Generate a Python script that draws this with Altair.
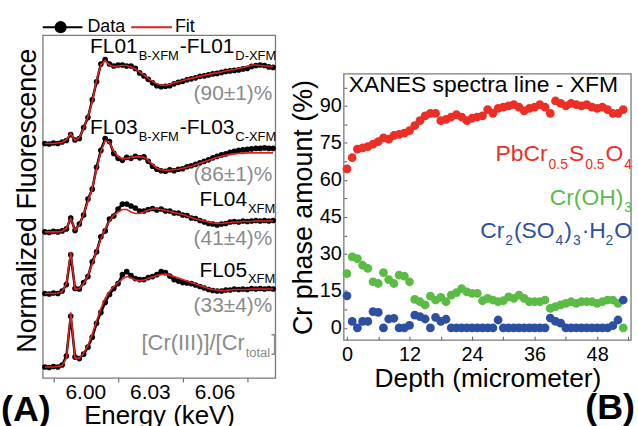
import altair as alt
import pandas as pd

FONT = "Liberation Sans"

# ---------------- Panel A: XANES spectra (offset, arbitrary units) ----------------
energy_kev = [5.981, 5.983, 5.985, 5.987, 5.989, 5.991, 5.993, 5.995, 5.997, 5.999,
              6.001, 6.003, 6.005, 6.007, 6.009, 6.011, 6.013, 6.015, 6.017, 6.019,
              6.021, 6.023, 6.025, 6.027, 6.029, 6.031, 6.033, 6.035, 6.037, 6.039,
              6.041, 6.043, 6.045, 6.047, 6.049, 6.051, 6.053, 6.055, 6.057, 6.059,
              6.061, 6.063, 6.065, 6.067, 6.069, 6.071, 6.073, 6.075, 6.077, 6.079,
              6.081, 6.083, 6.085, 6.087]

fl01_data = [236, 235.5, 236.5, 236, 237.5, 239, 245, 239.5, 241, 252, 262, 280, 298, 316, 320.5,
             316, 314, 315, 315, 314, 314, 311.5, 307, 304, 300.5, 297, 294, 293, 293.5, 294,
             296, 297.5, 298.5, 300, 301, 302, 303.5, 304, 305, 306, 306.5, 307.5, 308.5, 309,
             309.5, 310, 311, 311.5, 313.5, 314.5, 315, 314.5, 313, 312.5]
fl01_fit = [236, 236, 236, 236.5, 237, 240, 246, 239, 242, 251, 263, 278, 300, 315, 319.5,
            315, 313.5, 314, 314.5, 314.5, 313, 311, 308, 305, 301.5, 298.5, 296, 294.5, 294.5, 295.5,
            297, 298, 299, 300.5, 301.5, 302.5, 303.5, 304.5, 305.5, 306.5, 307, 308, 309, 310,
            310.5, 311.5, 312.5, 313.5, 315, 315, 314.5, 314, 314, 313.5]

fl03_data = [147, 146.5, 147.5, 147, 148, 150, 161, 148.5, 155, 164, 180, 190, 212, 229, 241,
             238, 226, 221, 219, 222, 221, 223, 221.5, 222.5, 218, 213, 210, 208.5, 208, 209.5,
             208.5, 210, 210.5, 212.5, 213.5, 215, 216.5, 218, 219.5, 221.5, 223, 224.5, 225.5, 227,
             228, 229, 229.5, 230, 230.5, 231, 231, 231.5, 231, 231]
fl03_fit = [147, 147, 147, 147, 147.5, 151, 160.5, 149, 154, 165, 178, 191, 210, 228, 239,
            237, 228, 223, 220.5, 221, 222, 222.5, 222.5, 222, 219, 215, 211, 209.5, 209, 209,
            209.5, 210, 211, 212, 213, 214.5, 216, 217.5, 219, 220.5, 222, 223, 224, 225,
            225.5, 226, 226, 226.5, 226.5, 226.5, 226.5, 226.5, 226.5, 226.5]

fl04_data = [85, 84.5, 85.5, 85, 87.5, 94, 124, 90, 89.5, 96, 102, 117, 127, 142, 148,
             160, 163, 170, 175, 175, 173, 171, 168, 168, 169.5, 170.5, 169, 170, 168, 168,
             166, 166, 164, 163.5, 161, 160.5, 158.5, 157, 155.5, 155, 154, 155, 155.5, 157,
             157.5, 157, 158, 157.5, 158, 158.5, 158, 158.5, 158, 158.5]
fl04_fit = [85, 85, 85, 85.5, 87, 95, 127, 89, 90, 95, 103, 115, 128, 140, 150,
            158, 164, 167, 169.5, 169.5, 167, 165.5, 165.5, 167, 169, 170, 170, 169.5, 168.5, 167.5,
            166.5, 165.5, 164.5, 163, 161.5, 160, 159, 158, 157, 156, 155.5, 155.5, 156, 156.5,
            157, 157, 157.5, 157.5, 157.5, 158, 158, 158, 158, 158]

fl05_data = [11, 10.5, 11.5, 11, 13, 22, 62, 21, 19.5, 24, 31, 41, 55, 66, 76,
             84, 90, 95, 104, 107, 103, 100, 99, 99, 101, 102, 104, 107, 106, 102.5,
             99, 97.5, 96, 95.5, 95, 93.5, 92, 90.5, 89, 88, 87.5, 87.5, 88.5, 88.5,
             89.5, 89, 89.5, 89, 90, 89.5, 90, 89.5, 90, 89.5]
fl05_fit = [11, 11, 11, 11.5, 12.5, 20, 66, 20, 20, 25, 33, 44, 57.5, 70, 80,
            87, 92, 96, 99.5, 102, 100.5, 98.5, 98, 98.5, 100, 101.5, 103, 104, 104.5, 103.5,
            102, 100.5, 99, 97.5, 96, 94.5, 93, 91.5, 90, 89, 88.5, 88, 88, 88.5,
            89, 89, 89, 89, 89.5, 89.5, 89.5, 89.5, 89.5, 89.5]

spectra = {"FL01": (fl01_data, fl01_fit), "FL03": (fl03_data, fl03_fit),
           "FL04": (fl04_data, fl04_fit), "FL05": (fl05_data, fl05_fit)}

energy_ticks = [5.985, 6.0, 6.015, 6.03, 6.045, 6.06, 6.075]
energy_label_values = [6.00, 6.03, 6.06]
energy_label_text = ["6.00", "6.03", "6.06"]

# ---------------- Panel B: phase amounts along depth ----------------
depth_um = [0, 1, 2, 3, 4, 5, 6, 7, 8, 9, 10, 11, 12, 13, 14, 15, 16, 17, 18, 19, 20, 21, 22, 23, 24, 25, 26,
            27, 28, 29, 30, 31, 32, 33, 34, 35, 36, 37, 38, 39, 40, 41, 42, 43, 44, 45, 46, 47, 48, 49, 50,
            51, 52, 53]
pbcrso = [64.5, 69, 72.5, 73, 73.5, 74.5, 75.5, 77, 76.5, 78, 78.5, 79, 80, 82, 84, 86, 87, 87, 84, 84.5,
          85.5, 86.5, 85.5, 84, 85, 85.5, 86, 88.5, 87, 89, 89.5, 90, 90.5, 89.5, 88, 89, 89.5, 90.5, 89.5,
          87, 92, 91, 90, 91, 90.5, 90, 90.5, 89.5, 89, 89.5, 88.5, 87, 87, 88.5]
croh3 = [22, 28.8, 28.1, 25.4, 24.1, 18.7, 18, 22.4, 19.6, 18, 21.4, 21, 18.7, 11.6, 10.6, 9.3, 12.9, 11.3,
         12.4, 10.6, 13.3, 14.3, 15.9, 14.6, 14, 14, 11, 12, 11.3, 10.6, 11, 12.6, 12, 13.3, 12, 10.6, 10.6,
         10.6, 11.3, 7.9, 8.6, 9.3, 9.9, 10.6, 9.9, 10.6, 10.6, 10.6, 9.9, 10.6, 11.3, 11.3, 9.9, 0]
cr2so4 = [13, 2.6, 0, 2.6, 2.6, 6.6, 6.3, 0, 3.6, 3.9, 0, 0, 1, 5.2, 4.6, 3.6, 0, 4.3, 2.6, 3.5, 0,
          0, 0, 0, 0, 0, 0, 0, 0, 3.2, 0, 0, 0, 0, 0, 0, 0, 0, 0, 4, 2.6, 1.9,
          0, 0, 0, 0, 0, 0, 0, 0, 0, 0.9, 3.2, 11.3]
phase_names = ["PbCr0.5S0.5O4", "Cr(OH)3", "Cr2(SO4)3.H2O"]
phase_colors = ["#ec2f26", "#5bbb45", "#2d4fa2"]

RED_FIT = "#e3201f"
GRAY = "#8a8a8a"
FRAME = "#7a7a7a"

# ---------------- text helpers (Arial / Liberation Sans advance widths) ----------------
EM = {" ": .278, "(": .333, ")": .333, "%": .889, "-": .333, ".": .278, "/": .278, "[": .278, "]": .278,
      "±": .584, "·": .278,
      "A": .667, "B": .667, "C": .722, "D": .722, "E": .667, "F": .611, "H": .722, "I": .278, "L": .556,
      "M": .833, "N": .722, "O": .778, "P": .667, "S": .667, "X": .667,
      "a": .556, "b": .556, "c": .5, "e": .556, "i": .222, "l": .222, "n": .556, "o": .556, "p": .556,
      "r": .333, "s": .5, "t": .278}


def tw(s, size):
    return sum(EM.get(c, 0.556) for c in s) * size


ONE = pd.DataFrame({"k": [0]})


def txt(t, x, y, size, color="black", align="left", weight="normal"):
    return alt.Chart(ONE).mark_text(text=t, font=FONT, fontSize=size, color=color, align=align,
                                    baseline="alphabetic", fontWeight=weight).encode(
        x=alt.value(x), y=alt.value(y))


def rich(segs, x, y, color="black", anchor="left", gap=1.0):
    widths = [tw(t, s) for t, s, _ in segs]
    total = sum(widths) + gap * (len(segs) - 1)
    cur = x if anchor == "left" else x - total
    out = []
    for (t, s, dy), w in zip(segs, widths):
        out.append(txt(t, cur, y + dy, s, color))
        cur += w + gap
    return out


# ---------------- Panel A chart ----------------
rows = []
for name, (d, f) in spectra.items():
    for e, dv, fv in zip(energy_kev, d, f):
        rows.append({"spectrum": name, "energy": e, "data": dv, "fit": fv})
dfA = pd.DataFrame(rows)

WA, HA = 234, 345
xscaleA = alt.Scale(domain=[5.98, 6.088], nice=False, zero=False)
yscaleA = alt.Scale(domain=[0, 345], nice=False, zero=False)
xaxisA = alt.Axis(values=energy_ticks, labels=False,
                  tickSize=4, title="Energy (keV)", titleFontSize=26, titleX=WA / 2, titleY=46,
                  titleBaseline="alphabetic", titleAlign="center")
yaxisA = alt.Axis(ticks=False, labels=False, title="Normalized Fluorescence", titleFontSize=27,
                  titleX=-7, titleY=166, titleBaseline="alphabetic", titleAlign="center", titleAngle=-90)

dataline = alt.Chart(dfA).mark_line(color="black", strokeWidth=2.5).encode(
    x=alt.X("energy:Q", scale=xscaleA, axis=xaxisA),
    y=alt.Y("data:Q", scale=yscaleA, axis=yaxisA),
    detail="spectrum:N")
dots = alt.Chart(dfA).mark_circle(size=32, color="black", opacity=1).encode(
    x=alt.X("energy:Q", title="Energy (keV)"),
    y=alt.Y("data:Q", title="Normalized Fluorescence"),
    detail="spectrum:N")
fitline = alt.Chart(dfA).mark_line(color=RED_FIT, strokeWidth=1.6).encode(
    x=alt.X("energy:Q", title="Energy (keV)"),
    y=alt.Y("fit:Q", title="Normalized Fluorescence"),
    detail="spectrum:N")

# tick labels of the energy axis
tickdf = pd.DataFrame({"energy": energy_label_values, "label": energy_label_text})
ticklabels = alt.Chart(tickdf).mark_text(font=FONT, fontSize=21, color="black", align="center",
                                         baseline="alphabetic").encode(
    x=alt.X("energy:Q", title="Energy (keV)"), y=alt.value(HA + 21), text="label:N")

layersA = [dataline, dots, fitline, ticklabels]
# legend
layersA.append(alt.Chart(ONE).mark_rule(color="black", strokeWidth=2).encode(
    x=alt.value(0), x2=alt.value(40), y=alt.value(-8)))
layersA.append(alt.Chart(ONE).mark_circle(color="black", size=150, opacity=1).encode(
    x=alt.value(18), y=alt.value(-8)))
layersA.append(txt("Data", 45, -3, 18))
layersA.append(alt.Chart(ONE).mark_rule(color=RED_FIT, strokeWidth=2).encode(
    x=alt.value(89), x2=alt.value(130), y=alt.value(-8)))
layersA.append(txt("Fit", 133, -3, 18))
# sample labels
layersA += rich([("FL01", 21, 0), ("B-XFM", 13, 7), ("-FL01", 21, 0), ("D-XFM", 13, 7)], 235, 18, anchor="right")
layersA += rich([("FL03", 21, 0), ("B-XFM", 13, 8), ("-FL03", 21, 0), ("C-XFM", 13, 8)], 235, 99, anchor="right")
layersA += rich([("FL04", 21, 0), ("XFM", 13, 7)], 234, 172, anchor="right")
layersA += rich([("FL05", 21, 0), ("XFM", 13, 6)], 234, 243, anchor="right")
layersA.append(txt("(90±1)%", 231, 65.5, 21, GRAY, align="right"))
layersA.append(txt("(86±1)%", 231, 147, 21, GRAY, align="right"))
layersA.append(txt("(41±4)%", 231, 211, 21, GRAY, align="right"))
layersA.append(txt("(33±4)%", 231, 279, 21, GRAY, align="right"))
layersA += rich([("[Cr(III)]/[Cr", 22, 0), ("total", 13, 7), ("]", 22, 0)], 236, 317, color=GRAY, anchor="right")
layersA.append(txt("(A)", -42, 388, 36, weight="bold"))
# invisible extent guide (right edge of panel A block)
layersA.append(alt.Chart(ONE).mark_rule(opacity=0).encode(x=alt.value(WA + 4), y=alt.value(0), y2=alt.value(10)))

panelA = alt.layer(*layersA).properties(width=WA, height=HA)

# ---------------- Panel B chart ----------------
rowsB = []
for name, vals in zip(phase_names, [pbcrso, croh3, cr2so4]):
    for d, v in zip(depth_um, vals):
        rowsB.append({"phase": name, "depth": d, "amount": v})
dfB = pd.DataFrame(rowsB)

WB, HB = 289, 307      # plot group (frame starts TOPB px below group top)
TOPB = 39
xaxisB = alt.Axis(values=[0, 6, 12, 18, 24, 30, 36, 42, 48, 54],
                  labelExpr="datum.value % 12 === 0 ? datum.label : ''",
                  offset=-4, tickSize=4, labelPadding=4, labelFontSize=20, labelFlush=False, labelOverlap=False,
                  title="Depth (micrometer)", titleFontSize=26.5, titleX=WB / 2, titleY=51,
                  titleBaseline="alphabetic", titleAlign="center")
yaxisB = alt.Axis(values=[0, 7.5, 15, 22.5, 30, 37.5, 45, 52.5, 60, 67.5, 75, 82.5, 90, 97.5],
                  labelExpr="datum.value % 15 === 0 ? datum.label : ''",
                  offset=-3, tickSize=3, labelPadding=2.5, labelFontSize=20, labelFlush=False, labelOverlap=False,
                  title="Cr phase amount (%)", titleFontSize=27, titleX=-36, titleY=TOPB + (HB - TOPB) / 2,
                  titleBaseline="alphabetic", titleAlign="center", titleAngle=-90)

pts = alt.Chart(dfB).mark_circle(size=78, opacity=1).encode(
    x=alt.X("depth:Q", scale=alt.Scale(domain=[-0.6, 54.5], nice=False, zero=False), axis=xaxisB),
    y=alt.Y("amount:Q", scale=alt.Scale(domain=[-5, 118.7], nice=False, zero=False), axis=yaxisB),
    color=alt.Color("phase:N", scale=alt.Scale(domain=phase_names, range=phase_colors), legend=None),
    order=alt.Order("order_key:Q"),
).transform_calculate(order_key="datum.phase === 'PbCr0.5S0.5O4' ? 0 : (datum.phase === 'Cr(OH)3' ? 1 : 2)")

frameB = alt.Chart(ONE).mark_rect(filled=False, stroke=FRAME, strokeWidth=1.3).encode(
    x=alt.value(0), x2=alt.value(WB), y=alt.value(TOPB), y2=alt.value(HB))

layersB = [frameB, pts]
layersB.append(txt("XANES spectra line - XFM", 5, TOPB + 18, 23))
layersB += rich([("PbCr", 23, 0), ("0.5", 14, 8), ("S", 23, 0), ("0.5", 14, 8), ("O", 23, 0), ("4", 14, 8)],
                290, TOPB + 88, color=phase_colors[0], anchor="right")
layersB += rich([("Cr(OH)", 23, 0), ("3", 14, 7)], 290, TOPB + 131.5, color=phase_colors[1], anchor="right")
layersB += rich([("Cr", 23, 0), ("2", 14, 7), ("(SO", 23, 0), ("4", 14, 7), (")", 23, 0), ("3", 14, 7),
                 ("·H", 23, 0), ("2", 14, 7), ("O", 23, 0)], 290, TOPB + 164.7, color=phase_colors[2], anchor="right")
layersB.append(txt("(B)", 293, HB + 79, 36, align="right", weight="bold"))
layersB.append(alt.Chart(ONE).mark_rule(opacity=0).encode(x=alt.value(-60), y=alt.value(TOPB + 10), y2=alt.value(TOPB + 20)))

panelB = alt.layer(*layersB).properties(width=WB, height=HB, view=alt.ViewBackground(stroke="transparent"))

chart = alt.hconcat(panelA, panelB, spacing=3).properties(
    padding={"left": 0, "top": 16, "right": 2, "bottom": 0}
).configure_view(stroke=FRAME, strokeWidth=1.3).configure_axis(
    labelFont=FONT, titleFont=FONT, titleFontWeight="normal", labelColor="black", titleColor="black",
    tickColor="#555555", grid=False, domain=False)

chart.save("out.html", embed_options={"renderer": "svg", "actions": False})
